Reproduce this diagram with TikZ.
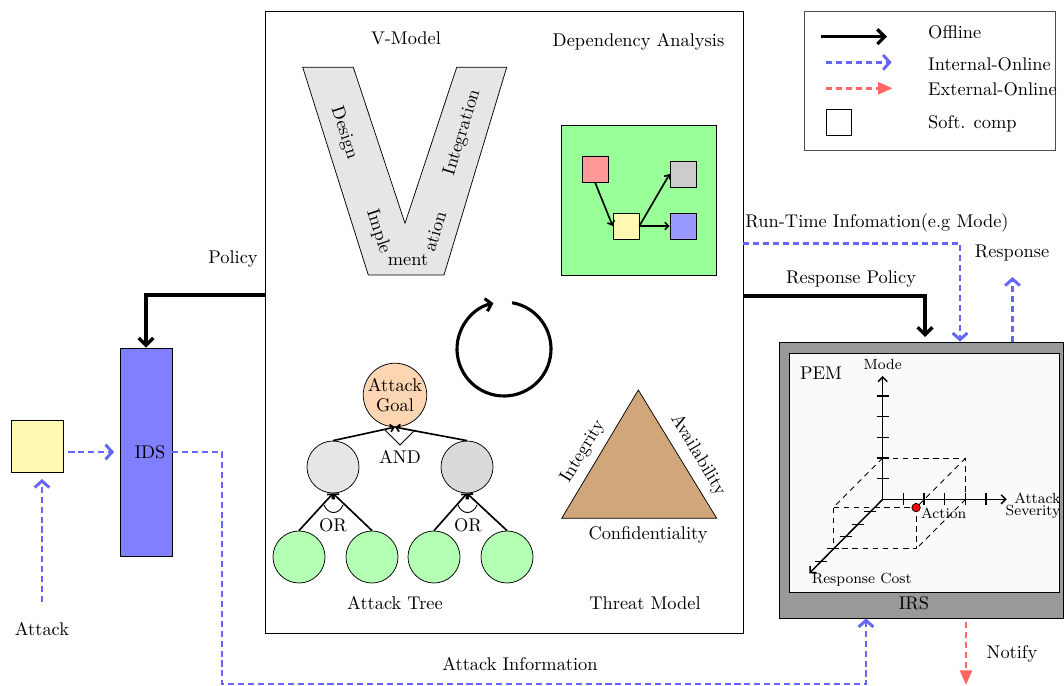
\documentclass[tikz,border=0pt]{standalone}
\usetikzlibrary{arrows.meta,fit}
\definecolor{onl}{RGB}{102,102,255}
\definecolor{ext}{RGB}{255,102,102}
\definecolor{vgray}{RGB}{230,230,230}
\definecolor{goalc}{RGB}{252,213,178}
\definecolor{midl}{RGB}{230,230,230}
\definecolor{midr}{RGB}{217,217,217}
\definecolor{leafc}{RGB}{179,255,179}
\definecolor{depg}{RGB}{153,255,153}
\definecolor{tanc}{RGB}{209,166,122}
\definecolor{idsc}{RGB}{128,128,255}
\definecolor{irsc}{RGB}{153,153,153}
\definecolor{pemc}{RGB}{250,250,250}
\definecolor{softc}{RGB}{255,248,178}
\definecolor{sqred}{RGB}{255,153,153}
\definecolor{sqgray}{RGB}{204,204,204}
\definecolor{sqblue}{RGB}{153,153,255}
\begin{document}
\begin{tikzpicture}[x=0.544pt,y=-0.544pt,
  offline/.style={line width=1.8pt,-{Straight Barb[length=4pt,width=8pt]}},
  internal/.style={draw=onl,line width=1.6pt,dash pattern=on 3.3pt off 2.1pt,-{Straight Barb[length=3.6pt,width=8pt]}},
  external/.style={draw=ext,line width=1.6pt,dash pattern=on 3.3pt off 2.1pt,-{Triangle[length=8pt,width=6.5pt]}},
  fitbox/.style={draw,inner sep=0pt},
  sq/.style={draw,minimum size=14.1pt,inner sep=0pt},
  treeedge/.style={line width=0.9pt,-{Straight Barb[length=2pt,width=4pt]}},
  leaf/.style={circle,draw,fill=leafc,minimum size=28.3pt,inner sep=0pt},
  mid/.style={circle,draw,minimum size=28.3pt,inner sep=0pt},
  axis/.style={line width=0.8pt,-{Straight Barb[length=2.5pt,width=5pt]}},
  tick/.style={line width=0.6pt},
  dbox/.style={line width=0.5pt,dash pattern=on 3pt off 2.5pt},
  lbl/.style={inner sep=1pt}
]
\useasboundingbox (0,0) rectangle (1064,686);

% ---------- main box ----------
\node[fitbox,fit={(265,11) (743,633)}] (main) {};
\node[lbl] (vmt) at (406,38) {V-Model};
\node[lbl] (dat) at (638.5,42) {Dependency Analysis};

% V model
\draw[fill=vgray] (302.7,67.3) -- (353.3,67.3) -- (405,223.3) -- (456.7,67.3)
  -- (506.7,67.3) -- (444,275) -- (368.3,275) -- cycle;
\node[lbl,rotate=-72] (vd) at (344,133) {Design};
\node[lbl,rotate=73] (vi) at (462.5,132.5) {Integration};
\node[lbl,rotate=-72] (vim) at (378.3,231.7) {Imple};
\node[lbl] (vme) at (408,260) {ment};
\node[lbl,rotate=73] (vat) at (435,231.7) {ation};

% dependency analysis
\node[fitbox,fill=depg,fit={(561.7,125) (716.7,275)}] (dep) {};
\node[sq,fill=sqred] (dr) at (595,169) {};
\node[sq,fill=softc] (dy) at (626,226) {};
\node[sq,fill=sqgray] (dg) at (683,174) {};
\node[sq,fill=sqblue] (db) at (683,226) {};
\draw[treeedge] (dr.south) -- (dy.west);
\draw[treeedge] (dy.east) -- (dg.west);
\draw[treeedge] (dy.east) -- (db.west);

% cycle
\draw[line width=1.7pt,-{Straight Barb[length=3pt,width=7pt]}] (504,349) ++(-80:47)
  arc[start angle=-80,end angle=257,radius=47];

% attack tree
\node[circle,draw,fill=goalc,minimum size=33.7pt,inner sep=0pt,align=center] (goal) at (395,395) {Attack\\[-1pt]Goal};
\node[mid,fill=midl] (ml) at (333,467) {};
\node[mid,fill=midr] (mr) at (467,467) {};
\node[leaf] (l1) at (299,557) {};
\node[leaf] (l2) at (372,557) {};
\node[leaf] (l3) at (434,557) {};
\node[leaf] (l4) at (507,557) {};
\draw[treeedge] (ml.north) -- (goal.south);
\draw[treeedge] (mr.north) -- (goal.south);
\draw[line width=0.5pt] (385,430) -- (400,445) -- (415,430);
\node[lbl] (andl) at (400,457) {AND};
\draw[treeedge] (l1.north) -- (ml.south);
\draw[treeedge] (l2.north) -- (ml.south);
\draw[treeedge] (l3.north) -- (mr.south);
\draw[treeedge] (l4.north) -- (mr.south);
\draw[line width=0.5pt] (324,505) .. controls (328,515) and (339,515) .. (343,505);
\draw[line width=0.5pt] (458,505) .. controls (462,515) and (473,515) .. (477,505);
\node[lbl] (orl) at (333,525) {OR};
\node[lbl] (orr) at (468,525) {OR};
\node[lbl] (att) at (395,603) {Attack Tree};

% threat model
\draw[fill=tanc] (638.3,390) -- (716.7,518.3) -- (561.7,518.3) -- cycle;
\node[lbl,rotate=59] (tint) at (583,451.7) {Integrity};
\node[lbl,rotate=-59] (tav) at (698,455) {Availability};
\node[lbl] (tco) at (648,535) {Confidentiality};
\node[lbl] (tmt) at (645,603) {Threat Model};

% ---------- legend ----------
\node[fitbox,draw=black!70,fit={(804.7,11.7) (1055,150.7)}] (leg) {};
\coordinate (lo1) at (820.7,36.7); \coordinate (lo2) at (887,36.7);
\coordinate (li1) at (826,62.3); \coordinate (li2) at (891.7,62.3);
\coordinate (le1) at (826,88.3); \coordinate (le2) at (892.7,88.3);
\draw[offline] (lo1) -- (lo2);
\draw[internal] (li1) -- (li2);
\draw[external] (le1) -- (le2);
\node[fitbox,fit={(826,109) (851.7,135)}] (lsq) {};
\node[lbl,anchor=west] (lt1) at (926,32.5) {Offline};
\node[lbl,anchor=west] (lt2) at (926,64) {Internal-Online};
\node[lbl,anchor=west] (lt3) at (926,89) {External-Online};
\node[lbl,anchor=west] (lt4) at (926,124) {Soft. comp};

% ---------- IDS & attack ----------
\node[fitbox,fill=idsc,fit={(120,348) (172,556)}] (ids) {};
\node[lbl] (idst) at (150,452) {IDS};
\node[fitbox,fill=softc,fit={(11,420.7) (63.3,472.7)}] (soft) {};
\coordinate (atk) at (42,602);
\node[lbl] (atkt) at (42,629) {Attack};
\draw[internal,shorten >=3.2pt] (atk) -- (soft.south -| atk);
\draw[internal,shorten <=2.6pt,shorten >=3pt] (soft.east |- ids.west) -- (ids.west);
\draw[offline] (main.west |- 0,295) -| (ids.north);
\node[lbl] (polt) at (233,259) {Policy};

% ---------- IRS ----------
\node[fitbox,fill=irsc,fit={(779,342) (1063,618)}] (irs) {};
\node[fitbox,fill=pemc,fit={(789,353) (1059,592)}] (pem) {};
\node[lbl] (irst) at (914,603) {IRS};
\node[lbl] (pemt) at (821,373) {PEM};

% axes
\coordinate (o) at (882.7,499.3);
\coordinate (ym) at (882.7,376);
\coordinate (xs) at (1006.7,499.3);
\coordinate (zc) at (809.3,573.3);
\draw[dbox] (882.7,458) -- (965.7,458) -- (965.7,499.3);
\draw[dbox] (882.7,458) -- (833.1,507.6);
\draw[dbox] (965.7,458) -- (916.1,507.6);
\draw[dbox] (965.7,499.3) -- (916.1,548.9);
\draw[dbox] (833.1,507.6) rectangle (916.1,548.9);
\draw[axis] (o) -- (ym);
\draw[axis] (o) -- (xs);
\draw[axis] (o) -- (zc);
\foreach \i in {1,...,5} {
  \draw[tick] (876.7,499.3-20.65*\i) -- (888.7,499.3-20.65*\i);
  \draw[tick] (882.7+20.65*\i,493.3) -- (882.7+20.65*\i,505.3);
  \draw[tick] (882.7-12.4*\i-6,499.3+12.4*\i) -- (882.7-12.4*\i+6,499.3+12.4*\i);
}
\node[circle,draw,fill=red,minimum size=4.6pt,inner sep=0pt] (act) at (916.1,507.6) {};
\node[lbl,font=\footnotesize,anchor=west] (actt) at (919,513) {Action};
\node[lbl,font=\footnotesize] (modet) at (882.7,364) {Mode};
\node[lbl,font=\footnotesize,align=right] (sevt) at (1033,506) {Attack\\[-3pt]Severity};
\node[lbl,font=\footnotesize] (cost) at (861.7,580) {Response Cost};

% ---------- connectors to IRS ----------
\draw[internal] (main.east |- 0,243.5) -| (irs.north -| 960,0);
\node[lbl] (rtt) at (877,222.5) {Run-Time Infomation(e.g Mode)};
\coordinate (rpe) at (925,337);
\draw[offline] (main.east |- 0,296) -| (rpe);
\node[lbl] (rpt) at (851,279) {Response Policy};
\coordinate (rse) at (1012.5,277);
\draw[internal] (irs.north -| rse) -- (rse);
\node[lbl] (rst) at (1012,253.5) {Response};
\coordinate (nte) at (966,685);
\draw[external] ([yshift=-2pt]irs.south -| nte) -- (nte);
\node[lbl] (ntt) at (1012,654) {Notify};
\coordinate (ai1) at (222,684);
\draw[internal] (ids.east) -| (ai1) -| (irs.south -| 866,0);
\node[lbl] (ait) at (520,664) {Attack Information};
\end{tikzpicture}
\end{document}
